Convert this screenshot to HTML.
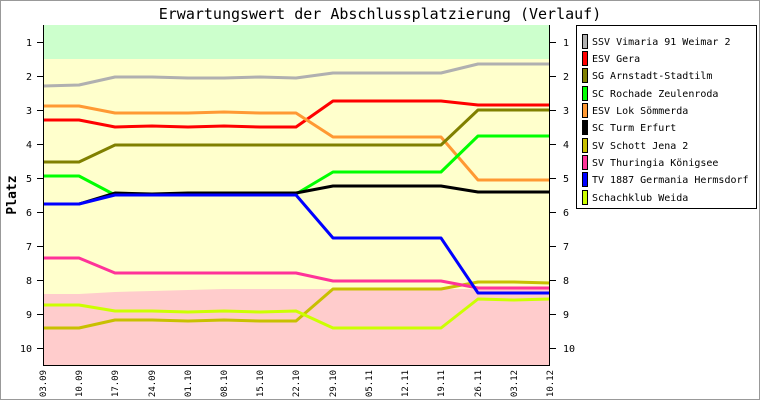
<!DOCTYPE html>
<html><head><meta charset="utf-8"><style>
body{margin:0;background:#fff}
svg{display:block}
text{font-family:"DejaVu Sans Mono","Liberation Mono",monospace}
</style></head><body>
<svg width="760" height="400" viewBox="0 0 760 400" xmlns="http://www.w3.org/2000/svg">
<rect x="0.5" y="0.5" width="759" height="399" fill="#fff" stroke="#999"/>
<text x="380" y="19" font-size="15" text-anchor="middle">Erwartungswert der Abschlussplatzierung (Verlauf)</text>
<rect x="43" y="25" width="507" height="34" fill="#ccffcc"/>
<rect x="43" y="59" width="507" height="306" fill="#ffffcc"/>
<polygon points="43,294 79,294 115,292 152,291 188,290 224,289 550,289 550,365 43,365" fill="#ffcccc"/>
<g fill="none" stroke-width="3" stroke-linejoin="round">
<polyline stroke="#b0b0b0" points="43,86 79,85 115,77 152,77 188,78 224,78 260,77 296,78 333,73 369,73 405,73 441,73 478,64 514,64 550,64"/>
<polyline stroke="#ff0000" points="43,120 79,120 115,127 152,126 188,127 224,126 260,127 296,127 333,101 369,101 405,101 441,101 478,105 514,105 550,105"/>
<polyline stroke="#ff9933" points="43,106 79,106 115,113 152,113 188,113 224,112 260,113 296,113 333,137 369,137 405,137 441,137 478,180 514,180 550,180"/>
<polyline stroke="#808000" points="43,162 79,162 115,145 152,145 188,145 224,145 260,145 296,145 333,145 369,145 405,145 441,145 478,110 514,110 550,110"/>
<polyline stroke="#00ff00" points="43,176 79,176 115,195 152,195 188,194 224,194 260,194 296,194 333,172 369,172 405,172 441,172 478,136 514,136 550,136"/>
<polyline stroke="#000000" points="43,204 79,204 115,193 152,194 188,193 224,193 260,193 296,193 333,186 369,186 405,186 441,186 478,192 514,192 550,192"/>
<polyline stroke="#c8c000" points="43,328 79,328 115,320 152,320 188,321 224,320 260,321 296,321 333,289 369,289 405,289 441,289 478,282 514,282 550,283"/>
<polyline stroke="#ff3399" points="43,258 79,258 115,273 152,273 188,273 224,273 260,273 296,273 333,281 369,281 405,281 441,281 478,288 514,288 550,288"/>
<polyline stroke="#0000ff" points="43,204 79,204 115,195 152,195 188,195 224,195 260,195 296,195 333,238 369,238 405,238 441,238 478,293 514,293 550,293"/>
<polyline stroke="#ccff00" points="43,305 79,305 115,311 152,311 188,312 224,311 260,312 296,311 333,328 369,328 405,328 441,328 478,299 514,300 550,299"/>
</g>
<g stroke="#000" stroke-width="1">
<line x1="43.5" y1="25" x2="43.5" y2="366"/>
<line x1="549.5" y1="25" x2="549.5" y2="366"/>
<line x1="43" y1="365.5" x2="550" y2="365.5"/>
<g id="t">
<line x1="37" y1="42.5" x2="43" y2="42.5"/><line x1="37" y1="76.5" x2="43" y2="76.5"/><line x1="37" y1="110.5" x2="43" y2="110.5"/><line x1="37" y1="144.5" x2="43" y2="144.5"/><line x1="37" y1="178.5" x2="43" y2="178.5"/><line x1="37" y1="212.5" x2="43" y2="212.5"/><line x1="37" y1="246.5" x2="43" y2="246.5"/><line x1="37" y1="280.5" x2="43" y2="280.5"/><line x1="37" y1="314.5" x2="43" y2="314.5"/><line x1="37" y1="348.5" x2="43" y2="348.5"/>
</g>
<use href="#t" transform="translate(513,0)"/>
</g>
<g font-size="10" text-anchor="end">
<text x="32" y="46">1</text><text x="32" y="80">2</text><text x="32" y="114">3</text><text x="32" y="148">4</text><text x="32" y="182">5</text><text x="32" y="216">6</text><text x="32" y="250">7</text><text x="32" y="284">8</text><text x="32" y="318">9</text><text x="32" y="352">10</text>
</g>
<g font-size="10">
<text x="563" y="46">1</text><text x="563" y="80">2</text><text x="563" y="114">3</text><text x="563" y="148">4</text><text x="563" y="182">5</text><text x="563" y="216">6</text><text x="563" y="250">7</text><text x="563" y="284">8</text><text x="563" y="318">9</text><text x="563" y="352">10</text>
</g>
<text transform="translate(16,195) rotate(-90)" font-size="13" font-weight="bold" text-anchor="middle">Platz</text>
<g font-size="9" text-anchor="end">
<text transform="translate(46,370) rotate(-90)">03.09</text>
<text transform="translate(82,370) rotate(-90)">10.09</text>
<text transform="translate(118,370) rotate(-90)">17.09</text>
<text transform="translate(155,370) rotate(-90)">24.09</text>
<text transform="translate(191,370) rotate(-90)">01.10</text>
<text transform="translate(227,370) rotate(-90)">08.10</text>
<text transform="translate(263,370) rotate(-90)">15.10</text>
<text transform="translate(299,370) rotate(-90)">22.10</text>
<text transform="translate(336,370) rotate(-90)">29.10</text>
<text transform="translate(372,370) rotate(-90)">05.11</text>
<text transform="translate(408,370) rotate(-90)">12.11</text>
<text transform="translate(444,370) rotate(-90)">19.11</text>
<text transform="translate(481,370) rotate(-90)">26.11</text>
<text transform="translate(517,370) rotate(-90)">03.12</text>
<text transform="translate(553,370) rotate(-90)">10.12</text>
</g>
<rect x="576.5" y="25.5" width="180" height="183" fill="#fff" stroke="#000"/>
<g stroke="#000" stroke-width="1">
<rect x="582.5" y="34.5" width="5" height="14" fill="#b0b0b0"/>
<rect x="582.5" y="51.5" width="5" height="14" fill="#ff0000"/>
<rect x="582.5" y="68.5" width="5" height="14" fill="#808000"/>
<rect x="582.5" y="86.5" width="5" height="14" fill="#00ff00"/>
<rect x="582.5" y="103.5" width="5" height="14" fill="#ff9933"/>
<rect x="582.5" y="120.5" width="5" height="14" fill="#000000"/>
<rect x="582.5" y="138.5" width="5" height="14" fill="#c8c000"/>
<rect x="582.5" y="155.5" width="5" height="14" fill="#ff3399"/>
<rect x="582.5" y="172.5" width="5" height="14" fill="#0000ff"/>
<rect x="582.5" y="190.5" width="5" height="14" fill="#ccff00"/>
</g>
<g font-size="10">
<text x="592" y="45">SSV Vimaria 91 Weimar 2</text>
<text x="592" y="62">ESV Gera</text>
<text x="592" y="79">SG Arnstadt-Stadtilm</text>
<text x="592" y="97">SC Rochade Zeulenroda</text>
<text x="592" y="114">ESV Lok Sömmerda</text>
<text x="592" y="131">SC Turm Erfurt</text>
<text x="592" y="149">SV Schott Jena 2</text>
<text x="592" y="166">SV Thuringia Königsee</text>
<text x="592" y="183">TV 1887 Germania Hermsdorf</text>
<text x="592" y="201">Schachklub Weida</text>
</g>
</svg>
</body></html>
